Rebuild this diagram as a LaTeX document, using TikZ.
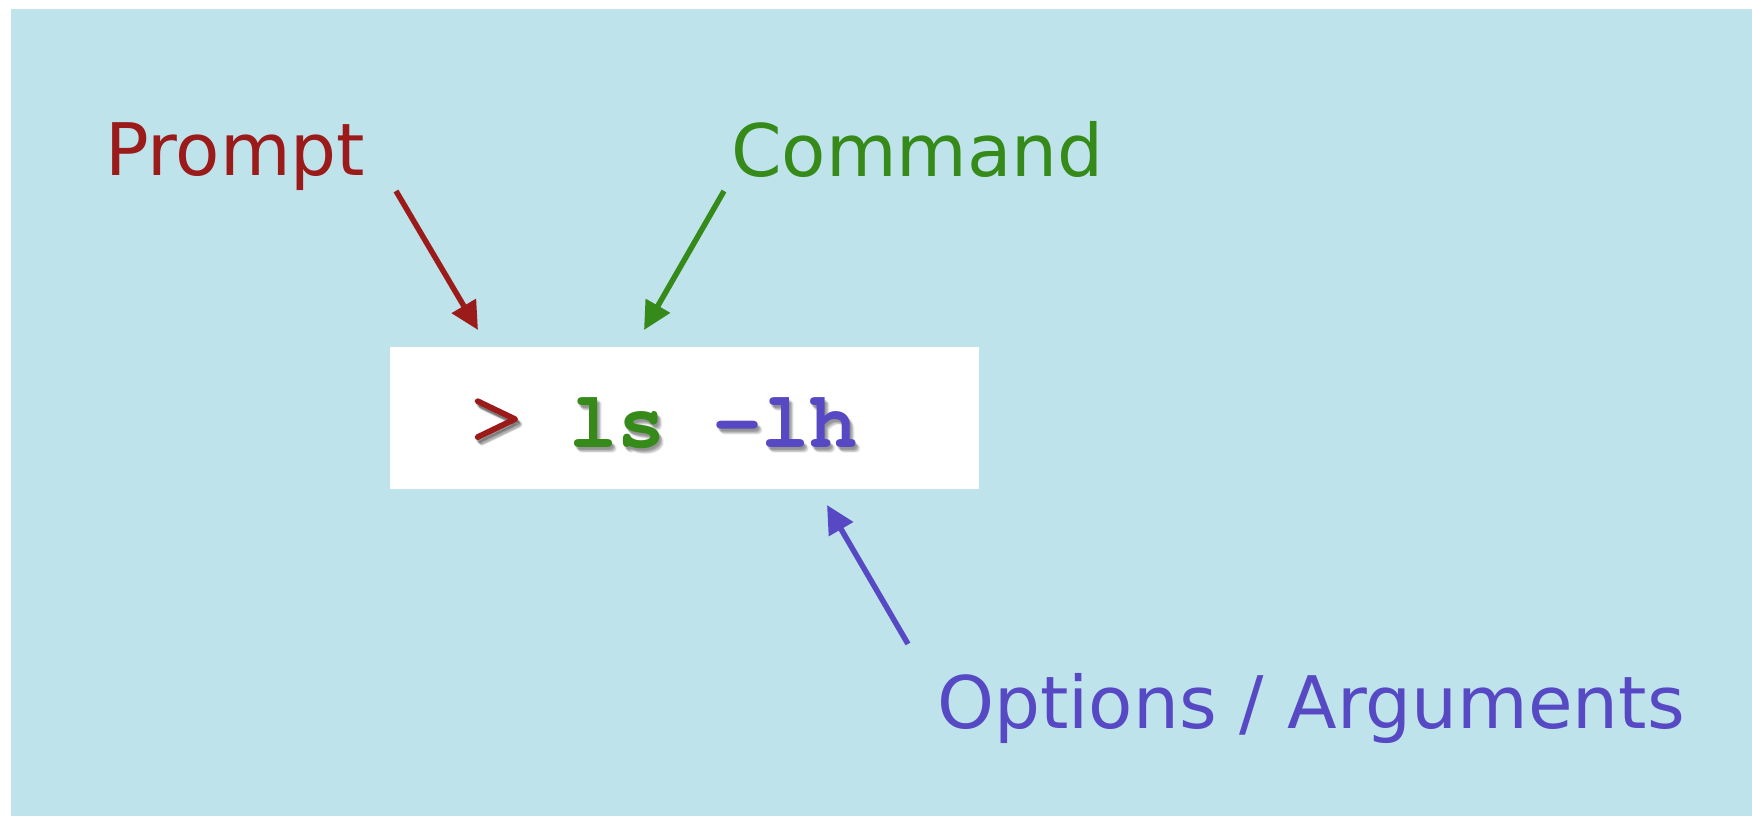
\documentclass[tikz,border=0pt]{standalone}
\usepackage{fontspec}
\setmainfont{DejaVu Sans}
\newfontfamily\codefont{texgyrecursor}[Extension=.otf, UprightFont=*-regular, BoldFont=*-bold]
\newfontfamily\gtfont{texgyrecursor-regular}[Extension=.otf, FakeBold=1.4]
\usetikzlibrary{arrows.meta}
\definecolor{bgblue}{RGB}{191,227,235}
\definecolor{promptred}{RGB}{155,27,27}
\definecolor{cmdgreen}{RGB}{53,138,25}
\definecolor{optpurple}{RGB}{87,73,196}
\begin{document}
\begin{tikzpicture}[x=1pt,y=-1pt,
  lbl/.style={inner sep=0pt, anchor=base west, font=\fontsize{72.5}{73}\selectfont},
  pointer/.style={line width=5.5pt, -{Triangle[length=28pt,width=27pt]}},
  codetext/.style={inner sep=0pt, anchor=base west, font=\codefont\bfseries\fontsize{80}{80}\selectfont},
  gttext/.style={inner sep=0pt, anchor=base west, font=\gtfont\fontsize{107}{107}\selectfont},
]
\useasboundingbox (0,0) rectangle (1752,816);
\fill[white] (0,0) rectangle (1752,816);
\fill[bgblue] (11,9) rectangle (1752,816);
\node[fill=white, minimum width=589pt, minimum height=142pt, anchor=north west, inner sep=0pt] (box) at (390,347) {};
\foreach \dx/\dy in {1/2,2/3,3/4,2/4,3/3,4/5,1/3,3/5,4/6,5/5}{
  \node[codetext, text=black, text opacity=0.05] at ({569+\dx},{447+\dy}) {ls -lh};
  \node[gttext, text=black, text opacity=0.05] at ({464+\dx},{446+\dy}) {>};
}
\node[gttext, text=promptred] (gt) at (464,446) {>};
\node[codetext] (code) at (569,447) {\textcolor{cmdgreen}{ls} \textcolor{optpurple}{-lh}};
\node[lbl, text=promptred] (prompt) at (105,175) {Prompt};
\node[lbl, text=cmdgreen] (command) at (731,176) {Command};
\node[lbl, text=optpurple] (options) at (937,728) {Options / Arguments};
\coordinate (pstart) at (396,191);
\coordinate (ptip) at (478,330);
\coordinate (cstart) at (724,191);
\coordinate (ctip) at (644,330);
\coordinate (ostart) at (908,644);
\coordinate (otip) at (827,505);
\draw[pointer, promptred] (pstart) -- (ptip);
\draw[pointer, cmdgreen] (cstart) -- (ctip);
\draw[pointer, optpurple] (ostart) -- (otip);
\end{tikzpicture}
\end{document}
